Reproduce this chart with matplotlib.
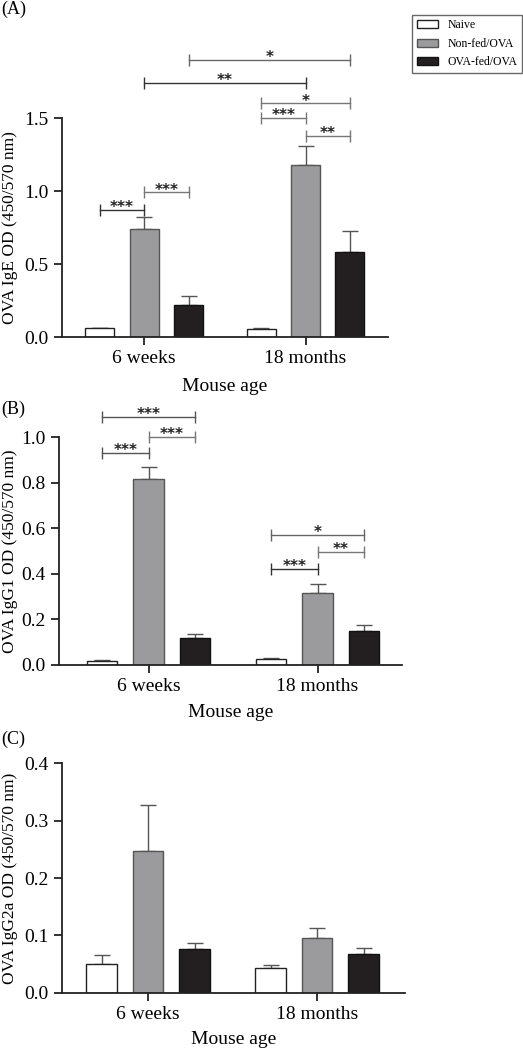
import matplotlib
matplotlib.use("Agg")
import matplotlib.pyplot as plt
from matplotlib.patches import Patch
import numpy as np

plt.rcParams['font.family'] = ['Liberation Serif', 'DejaVu Serif']

groups = ['6 weeks', '18 months']
series = ['Naive', 'Non-fed/OVA', 'OVA-fed/OVA']
face_colors = ['white', '#9b9b9d', '#231f20']
edge_colors = ['#222222', '#555555', '#111111']

# panel A: OVA IgE
ige_mean = {'Naive': [0.06, 0.055], 'Non-fed/OVA': [0.74, 1.18], 'OVA-fed/OVA': [0.22, 0.58]}
ige_sem = {'Naive': [0.005, 0.004], 'Non-fed/OVA': [0.08, 0.13], 'OVA-fed/OVA': [0.06, 0.145]}

# panel B: OVA IgG1
igg1_mean = {'Naive': [0.018, 0.027], 'Non-fed/OVA': [0.815, 0.315], 'OVA-fed/OVA': [0.12, 0.147]}
igg1_sem = {'Naive': [0.004, 0.003], 'Non-fed/OVA': [0.055, 0.04], 'OVA-fed/OVA': [0.018, 0.028]}

# panel C: OVA IgG2a
igg2a_mean = {'Naive': [0.050, 0.043], 'Non-fed/OVA': [0.247, 0.096], 'OVA-fed/OVA': [0.077, 0.068]}
igg2a_sem = {'Naive': [0.016, 0.006], 'Non-fed/OVA': [0.080, 0.017], 'OVA-fed/OVA': [0.010, 0.010]}

# significance brackets: (group_a, series_a, group_b, series_b, y, label, color)
ige_sig = [
    (0, 2, 1, 2, 1.90, '*', '#666666'),
    (0, 1, 1, 1, 1.74, '**', '#333333'),
    (1, 0, 1, 2, 1.60, '*', '#777777'),
    (1, 0, 1, 1, 1.50, '***', '#777777'),
    (1, 1, 1, 2, 1.38, '**', '#777777'),
    (0, 0, 0, 1, 0.87, '***', '#333333'),
    (0, 1, 0, 2, 0.99, '***', '#777777'),
]
igg1_sig = [
    (0, 0, 0, 2, 1.088, '***', '#555555'),
    (0, 1, 0, 2, 1.00, '***', '#777777'),
    (0, 0, 0, 1, 0.93, '***', '#555555'),
    (1, 0, 1, 2, 0.57, '*', '#666666'),
    (1, 1, 1, 2, 0.495, '**', '#777777'),
    (1, 0, 1, 1, 0.42, '***', '#333333'),
]

width = 0.18
offset = 0.275


def bar_x(g, s):
    return g + (s - 1) * offset


def draw_panel(ax, means, sems, ylabel, ymax, yticks, xlim, ylab_x, xlab_y, sig=None):
    x = np.arange(len(groups))
    for i, name in enumerate(series):
        pos = x + (i - 1) * offset
        ax.bar(pos, means[name], width, color=face_colors[i], edgecolor=edge_colors[i],
               linewidth=1.0, zorder=2)
        ax.errorbar(pos, means[name], yerr=[np.zeros(len(groups)), sems[name]], fmt='none',
                    ecolor='#555555', elinewidth=1.0, capsize=5.5, capthick=1.0, zorder=1)
    ax.set_xlim(*xlim)
    ax.set_ylim(0, ymax)
    ax.set_yticks(yticks)
    ax.set_yticklabels([f'{t:.1f}' for t in yticks])
    ax.set_xticks(x)
    ax.set_xticklabels(groups)
    ax.set_ylabel(ylabel, fontsize=12.5)
    ax.yaxis.set_label_coords(ylab_x, 0.5)
    ax.yaxis.label.set_va('center')
    ax.set_xlabel('Mouse age', fontsize=14)
    ax.xaxis.set_label_coords(0.5, xlab_y)
    ax.xaxis.label.set_va('center')
    ax.spines['top'].set_visible(False)
    ax.spines['right'].set_visible(False)
    for sp in ('left', 'bottom'):
        ax.spines[sp].set_linewidth(1.3)
        ax.spines[sp].set_color('#222222')
    ax.tick_params(axis='both', labelsize=14, direction='out', length=6, width=1.3, color='#222222')
    if sig:
        for ga, sa, gb, sb, y, lab, col in sig:
            xa, xb = bar_x(ga, sa), bar_x(gb, sb)
            ax.plot([xa, xb], [y, y], color=col, lw=1.0, marker='|', markersize=8,
                    markeredgewidth=1.0, clip_on=False, zorder=3)
            ax.annotate(lab, ((xa + xb) / 2, y), xytext=(0, -1.5), textcoords='offset points',
                        ha='center', va='baseline', fontsize=11, fontweight='bold',
                        family='DejaVu Sans', color='#222222', annotation_clip=False)


fig = plt.figure(figsize=(5.23, 10.5), dpi=100)
axA = fig.add_axes([0.1185, 0.679, 0.623, 0.2086])
axB = fig.add_axes([0.1128, 0.3667, 0.656, 0.2171])
axC = fig.add_axes([0.1185, 0.0543, 0.656, 0.219])

draw_panel(axA, ige_mean, ige_sem, 'OVA IgE OD (450/570 nm)', 1.5, [0.0, 0.5, 1.0, 1.5],
           (-0.51, 1.51), -0.16, -0.228, ige_sig)
draw_panel(axB, igg1_mean, igg1_sem, 'OVA IgG1 OD (450/570 nm)', 1.0, [0.0, 0.2, 0.4, 0.6, 0.8, 1.0],
           (-0.53, 1.50), -0.143, -0.21, igg1_sig)
draw_panel(axC, igg2a_mean, igg2a_sem, 'OVA IgG2a OD (450/570 nm)', 0.4, [0.0, 0.1, 0.2, 0.3, 0.4],
           (-0.51, 1.52), -0.152, -0.204)

fig.text(0.002, 0.999, '(A)', fontsize=13, va='top')
fig.text(0.002, 0.618, '(B)', fontsize=13, va='top')
fig.text(0.002, 0.304, '(C)', fontsize=13, va='top')

handles = [Patch(facecolor=face_colors[i], edgecolor=edge_colors[i], label=series[i])
           for i in range(len(series))]
leg = fig.legend(handles=handles, loc='upper right', bbox_to_anchor=(0.998, 0.986),
                 borderaxespad=0, fontsize=8.5, frameon=True, fancybox=False,
                 edgecolor='#444444', handlelength=1.8, handleheight=0.7,
                 borderpad=0.4, labelspacing=0.55)
leg.get_frame().set_linewidth(1.0)

fig.savefig('out.png', dpi=100)
